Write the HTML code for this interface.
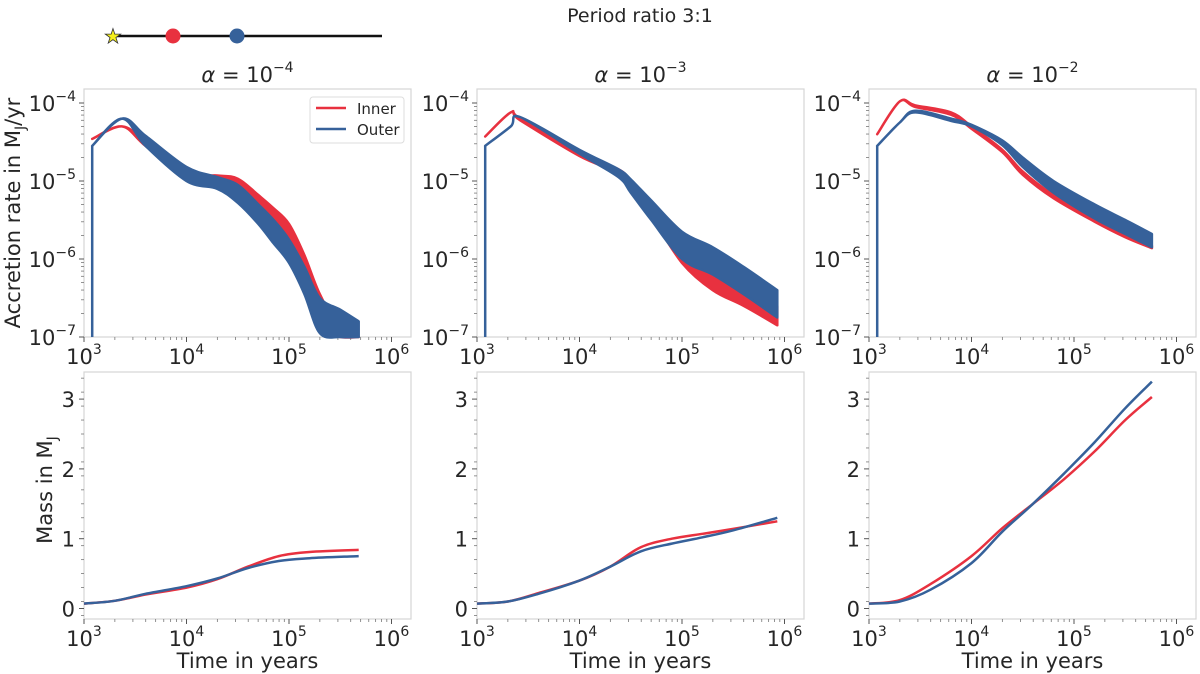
<!DOCTYPE html>
<html><head><meta charset="utf-8"><style>
body{margin:0;background:#fff;}
svg{display:block;font-family:"DejaVu Sans","Liberation Sans",sans-serif;fill:#262626;}
</style></head><body>
<svg id="fig" width="1200" height="674" viewBox="0 0 1200 674" xmlns="http://www.w3.org/2000/svg">
<text x="640" y="22" font-size="19" text-anchor="middle">Period ratio 3:1</text>
<g>
<line x1="113" y1="36" x2="382" y2="36" stroke="#111" stroke-width="2.5"/>
<text x="113" y="43" font-size="20" text-anchor="middle" fill="#f5ef1a" stroke="#333" stroke-width="0.8">★</text>
<circle cx="173" cy="36" r="7.5" fill="#e8313f"/>
<circle cx="237" cy="36" r="7.5" fill="#36619a"/>
</g>
<text transform="translate(20,213) rotate(-90)" font-size="21" text-anchor="middle">Accretion rate in M<tspan font-size="14" dy="5">J</tspan><tspan dy="-5">/yr</tspan></text>
<text transform="translate(52,490) rotate(-90)" font-size="21" text-anchor="middle">Mass in M<tspan font-size="14" dy="5">J</tspan></text>
</svg>
<script>
// ----- data (log10 time) -----
const alphaLabels = ["−4","−3","−2"];
const accT1 = [3.08,3.37,3.6,4.0,4.3,4.5,4.7,4.85,5.0,5.15,5.3,5.5,5.68];
const accInU1 = [-4.46,-4.3,-4.5,-4.9,-4.93,-4.97,-5.18,-5.35,-5.55,-5.95,-6.45,-6.9,-7.0];
const accInL1 = [-4.46,-4.3,-4.55,-4.95,-5.02,-5.15,-5.4,-5.6,-5.85,-6.35,-6.9,-7.0,-7.0];
const accOutU1 = [-4.55,-4.2,-4.42,-4.82,-4.95,-5.05,-5.3,-5.5,-5.75,-6.1,-6.5,-6.65,-6.8];
const accOutL1 = [-4.55,-4.2,-4.55,-5.0,-5.1,-5.28,-5.55,-5.8,-6.05,-6.45,-6.95,-7.0,-7.0];
const accT2 = [3.08,3.33,3.42,4.0,4.38,4.5,4.7,5.0,5.3,5.6,5.93];
const accInU2 = [-4.43,-4.12,-4.2,-4.65,-4.85,-5.0,-5.3,-5.75,-6.1,-6.3,-6.6];
const accInL2 = [-4.43,-4.12,-4.22,-4.68,-4.9,-5.1,-5.45,-6.05,-6.4,-6.6,-6.85];
const accOutU2 = [-4.55,-4.3,-4.18,-4.6,-4.85,-4.98,-5.25,-5.65,-5.85,-6.1,-6.4];
const accOutL2 = [-4.55,-4.3,-4.18,-4.65,-4.95,-5.15,-5.5,-6.0,-6.2,-6.45,-6.75];
const accT3 = [3.08,3.3,3.45,3.8,4.0,4.3,4.5,4.8,5.2,5.5,5.76];
const accInU3 = [-4.4,-3.98,-4.03,-4.12,-4.3,-4.6,-4.88,-5.18,-5.48,-5.68,-5.83];
const accInL3 = [-4.4,-3.98,-4.05,-4.15,-4.33,-4.63,-4.92,-5.22,-5.52,-5.72,-5.86];
const accOutU3 = [-4.55,-4.25,-4.1,-4.2,-4.28,-4.48,-4.7,-5.0,-5.3,-5.5,-5.68];
const accOutL3 = [-4.55,-4.25,-4.12,-4.23,-4.3,-4.54,-4.82,-5.15,-5.48,-5.68,-5.85];
const massT1 = [3.0,3.3,3.6,4.0,4.3,4.6,4.9,5.2,5.68];
const massIn1 = [0.07,0.11,0.2,0.3,0.42,0.6,0.75,0.81,0.84];
const massOut1 = [0.07,0.11,0.21,0.32,0.43,0.58,0.68,0.72,0.75];
const massT2 = [3.0,3.3,3.6,4.0,4.3,4.6,4.9,5.2,5.5,5.93];
const massIn2 = [0.07,0.1,0.22,0.4,0.6,0.88,1.0,1.07,1.14,1.25];
const massOut2 = [0.07,0.1,0.21,0.4,0.6,0.82,0.93,1.02,1.12,1.3];
const massT3 = [3.0,3.3,3.6,4.0,4.3,4.6,4.9,5.2,5.5,5.76];
const massIn3 = [0.07,0.12,0.35,0.75,1.15,1.5,1.85,2.25,2.7,3.03];
const massOut3 = [0.07,0.1,0.27,0.65,1.1,1.5,1.93,2.38,2.87,3.25];
const xTicks = ["3","4","5","6"];
const accTicks = ["-4","-5","-6","-7"];
const massTicks = [0,1,2,3];

const NS="http://www.w3.org/2000/svg";
const svg=document.getElementById('fig');
const RED="#e8313f", BLUE="#36619a";
function mk(tag,attrs,parent){const e=document.createElementNS(NS,tag);for(const k in attrs)e.setAttribute(k,attrs[k]);(parent||svg).appendChild(e);return e;}
const lefts=[84,477,869];
const W=327, DEC=102.5;
const accSets=[[accT1,accInU1,accInL1,accOutU1,accOutL1],[accT2,accInU2,accInL2,accOutU2,accOutL2],[accT3,accInU3,accInL3,accOutU3,accOutL3]];
const massSets=[[massT1,massIn1,massOut1],[massT2,massIn2,massOut2],[massT3,massIn3,massOut3]];
function smooth(pts){let d="M"+pts[0][0].toFixed(1)+","+pts[0][1].toFixed(1);
 for(let i=0;i<pts.length-1;i++){const p0=pts[Math.max(i-1,0)],p1=pts[i],p2=pts[i+1],p3=pts[Math.min(i+2,pts.length-1)];
 d+=` C${(p1[0]+(p2[0]-p0[0])/6).toFixed(1)},${(p1[1]+(p2[1]-p0[1])/6).toFixed(1)} ${(p2[0]-(p3[0]-p1[0])/6).toFixed(1)},${(p2[1]-(p3[1]-p1[1])/6).toFixed(1)} ${p2[0].toFixed(1)},${p2[1].toFixed(1)}`;}
 return d;}
function xAxis(g,L,bottom){
 for(let d=3;d<=6;d++){const x=L+(d-3)*DEC;
  mk('line',{x1:x,y1:bottom,x2:x,y2:bottom+5,stroke:"#555","stroke-width":1},g);
  if(d<6)for(let m=2;m<=9;m++){const xm=L+(d-3+Math.log10(m))*DEC;mk('line',{x1:xm,y1:bottom,x2:xm,y2:bottom+3,stroke:"#777","stroke-width":0.8},g);}
 }
 xTicks.forEach((t,i)=>{const x=L+(+t-3)*DEC;const tx=mk('text',{x:x,y:bottom+27,"font-size":21,"text-anchor":"middle"},g);
  
  
  tx.innerHTML='10<tspan font-size="14" dy="-10">'+t+'</tspan>';});
}
for(let p=0;p<3;p++){
 const L=lefts[p];
 const top=89,bot=337; const yA=v=>103+(-4-v)*78; const xA=v=>L+(v-3)*DEC;
 const g=mk('g',{});
 
 
 mk('rect',{x:L,y:top,width:W,height:bot-top,fill:"none",stroke:"#d6d6d6","stroke-width":1.2},g);
 const tt=mk('text',{x:L+W/2,y:82,"font-size":21,"text-anchor":"middle"},g);
 
 
 tt.innerHTML='<tspan font-style="italic">α</tspan> = 10<tspan font-size="14" dy="-10">'+alphaLabels[p]+'</tspan>';
 accTicks.forEach(t=>{const y=yA(+t);
  mk('line',{x1:L-5,y1:y,x2:L,y2:y,stroke:"#555"},g);
  const lb=mk('text',{x:L-8,y:y+8,"font-size":21,"text-anchor":"end"},g);
  
  
  lb.innerHTML='10<tspan font-size="14" dy="-10">'+t.replace('-','−')+'</tspan>';
  if(+t>-7)for(let m=2;m<=9;m++){const ym=yA(+t-1+Math.log10(m));mk('line',{x1:L-3,y1:ym,x2:L,y2:ym,stroke:"#777","stroke-width":0.8},g);}
 });
 xAxis(g,L,bot);
 const [T,IU,IL,OU,OL]=accSets[p];
 const clip=v=>Math.max(v,-7);
 function band(U,Lo,col,name){
  const up=T.map((t,i)=>[xA(t),yA(clip(U[i]))]);const lo=T.map((t,i)=>[xA(t),yA(clip(Lo[i]))]).reverse();
  const d=smooth(up)+" L"+smooth(lo).slice(1)+" Z";
  const e=mk('path',{d:d,fill:col,stroke:col,"stroke-width":2.5,"stroke-linejoin":"round"},g);
  
  
 }
 band(IU,IL,RED,'inner-accretion');
 band(OU,OL,BLUE,'outer-accretion');
 mk('line',{x1:xA(T[0]),y1:yA(OL[0]),x2:xA(T[0]),y2:bot,stroke:BLUE,"stroke-width":2.5},g);
 const mt=372,mb=619; const yM=v=>608.5-v*69.8;
 const g2=mk('g',{});
 
 
 mk('rect',{x:L,y:mt,width:W,height:mb-mt,fill:"none",stroke:"#d6d6d6","stroke-width":1.2},g2);
 massTicks.forEach(t=>{const y=yM(t);
  mk('line',{x1:L-5,y1:y,x2:L,y2:y,stroke:"#555"},g2);
  const lb=mk('text',{x:L-9,y:y+8,"font-size":21,"text-anchor":"end"},g2);
  
  
  lb.textContent=t;
 });
 for(let v=-0.1;v<3.35;v+=0.2){const y=yM(v);mk('line',{x1:L-3,y1:y,x2:L,y2:y,stroke:"#777","stroke-width":0.8},g2);}
 xAxis(g2,L,mb);
 const xl=mk('text',{x:L+W/2,y:668,"font-size":21,"text-anchor":"middle"},g2);
 
 
 xl.textContent='Time in years';
 const [MT,MI,MO]=massSets[p];
 const li=mk('path',{d:smooth(MT.map((t,i)=>[xA(t),yM(MI[i])])),fill:"none",stroke:RED,"stroke-width":2.5},g2);
 
 
 const lo=mk('path',{d:smooth(MT.map((t,i)=>[xA(t),yM(MO[i])])),fill:"none",stroke:BLUE,"stroke-width":2.5},g2);
 
 
}
const lg=mk('g',{});


mk('rect',{x:310,y:97,width:94,height:46,rx:3,fill:"#fff",stroke:"#ddd"},lg);
mk('line',{x1:316,y1:108,x2:346,y2:108,stroke:RED,"stroke-width":2.5},lg);
mk('line',{x1:316,y1:129,x2:346,y2:129,stroke:BLUE,"stroke-width":2.5},lg);
const l1=mk('text',{x:357,y:114,"font-size":15},lg);l1.textContent='Inner';


const l2=mk('text',{x:357,y:135,"font-size":15},lg);l2.textContent='Outer';


</script>
</body></html>
